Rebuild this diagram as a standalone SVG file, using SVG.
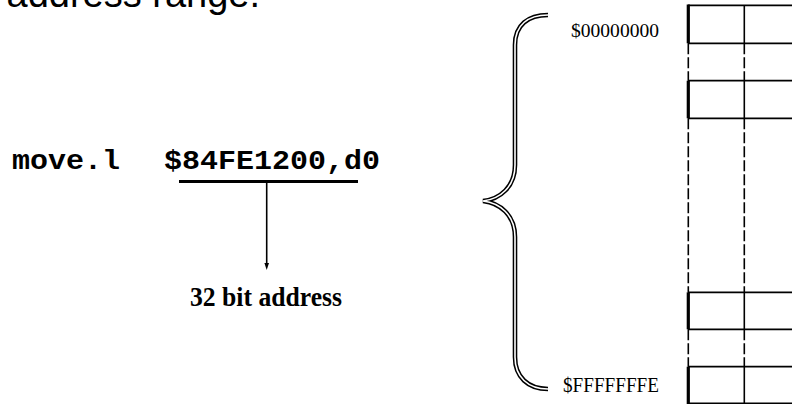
<svg xmlns="http://www.w3.org/2000/svg" width="792" height="404" viewBox="0 0 792 404">
<style>
.mono{font-family:"Liberation Mono","Courier New",monospace;font-weight:bold;font-size:27px;fill:#000}
.serif{font-family:"Liberation Serif","Times New Roman",serif;fill:#000}
.sans{font-family:"Liberation Sans",Arial,sans-serif;fill:#000}
.h{stroke:#000;stroke-width:1.8;fill:none}
.thick{stroke:#000;stroke-width:3.2;fill:none}
.thin{stroke:#000;stroke-width:1.6;fill:none}
.dash{stroke:#000;stroke-width:1.6;fill:none;stroke-dasharray:11 3}
.brace-out{fill:none;stroke:#000;stroke-width:4.6}
.brace-in{fill:none;stroke:#fff;stroke-width:1.6}
</style>
<rect width="792" height="404" fill="#fff"/>
<g id="title">
<text class="sans" x="260" y="7" font-size="38" text-anchor="end">address range.</text>
</g>
<g id="instruction">
<text class="mono" x="12" y="169" textLength="108" lengthAdjust="spacingAndGlyphs">move.l</text>
<text class="mono" x="164" y="169" textLength="216" lengthAdjust="spacingAndGlyphs">$84FE1200,d0</text>
</g>
<g id="label-32bit">
<text class="serif" x="190" y="306" font-size="27" font-weight="bold" textLength="152" lengthAdjust="spacingAndGlyphs">32 bit address</text>
</g>
<g id="connectors">
<line x1="179" y1="181.5" x2="358" y2="181.5" stroke="#000" stroke-width="3"/>
<line x1="266.7" y1="181.5" x2="266.7" y2="264" stroke="#000" stroke-width="1.6"/>
<polygon points="264.4,263 269,263 266.7,270" fill="#000"/>
</g>
<g id="brace">
<path class="brace-out" d="M548,15 C528,15 515,25 515,45 L515,165 C515,187 500,199 483,201 C500,203 515,215 515,237 L515,357 C515,377 528,389 548,389"/>
<path class="brace-in" d="M548,15 C528,15 515,25 515,45 L515,165 C515,187 500,199 483,201 C500,203 515,215 515,237 L515,357 C515,377 528,389 548,389"/>
</g>
<g id="addr-low">
<text class="serif" x="571" y="36.5" font-size="19" textLength="88" lengthAdjust="spacingAndGlyphs">$00000000</text>
</g>
<g id="addr-high">
<text class="serif" x="563" y="391.5" font-size="20" textLength="96" lengthAdjust="spacingAndGlyphs">$FFFFFFFE</text>
</g>
<g id="memory">
<line class="h" x1="688" y1="5.3" x2="792" y2="5.3"/>
<line class="h" x1="688" y1="43.3" x2="792" y2="43.3"/>
<line class="h" x1="688" y1="80.7" x2="792" y2="80.7"/>
<line class="h" x1="688" y1="118.3" x2="792" y2="118.3"/>
<line class="h" x1="688" y1="292.3" x2="792" y2="292.3"/>
<line class="h" x1="688" y1="329.3" x2="792" y2="329.3"/>
<line class="h" x1="688" y1="366.7" x2="792" y2="366.7"/>
<line class="h" x1="688" y1="403.3" x2="792" y2="403.3"/>
<line class="thick" x1="688.3" y1="4.5" x2="688.3" y2="43.3"/>
<line class="thick" x1="688.3" y1="80.7" x2="688.3" y2="118.3"/>
<line class="thick" x1="688.3" y1="292.3" x2="688.3" y2="329.3"/>
<line class="thick" x1="688.3" y1="366.7" x2="688.3" y2="404"/>
<line class="dash" x1="688.3" y1="43.3" x2="688.3" y2="80.7"/>
<line class="dash" x1="688.3" y1="118.3" x2="688.3" y2="292.3"/>
<line class="dash" x1="688.3" y1="329.3" x2="688.3" y2="366.7"/>
<line class="thin" x1="744.3" y1="5.3" x2="744.3" y2="43.3"/>
<line class="thin" x1="744.3" y1="80.7" x2="744.3" y2="118.3"/>
<line class="thin" x1="744.3" y1="292.3" x2="744.3" y2="329.3"/>
<line class="thin" x1="744.3" y1="366.7" x2="744.3" y2="404"/>
<line class="dash" x1="744.3" y1="43.3" x2="744.3" y2="80.7"/>
<line class="dash" x1="744.3" y1="118.3" x2="744.3" y2="292.3"/>
<line class="dash" x1="744.3" y1="329.3" x2="744.3" y2="366.7"/>
</g>
</svg>
